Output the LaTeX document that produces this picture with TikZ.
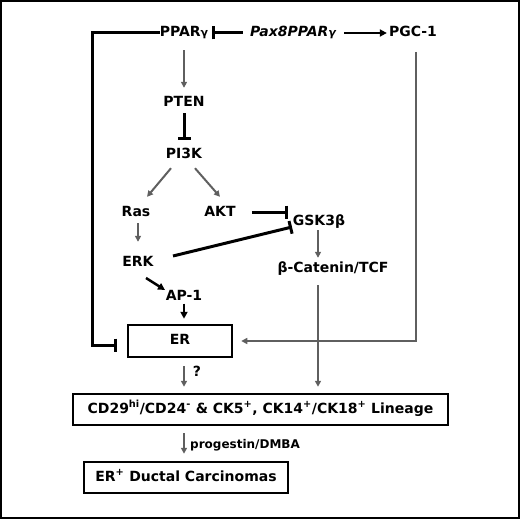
\documentclass[tikz,border=0pt]{standalone}
\usepackage{fontspec}
\setmainfont{DejaVu Sans}
\usetikzlibrary{arrows.meta}
\definecolor{gline}{RGB}{95,95,95}
\begin{document}
\begin{tikzpicture}[x=1pt,y=1pt,
  lbl/.style={font=\bfseries\fontsize{14}{16}\selectfont, inner sep=0pt, text height=10pt, text depth=3pt},
  boxn/.style={lbl, draw, line width=2.5pt, text height=10pt, text depth=3pt},
  garr/.style={draw=gline, line width=2pt, -{Triangle[length=6pt,width=6pt]}},
  barr/.style={line width=2.5pt, -{Triangle[length=7pt,width=7pt]}},
  inh/.style={line width=3pt, -{Bar[width=13pt,line width=3pt]}}
]
\useasboundingbox (0,0) rectangle (520,-519);
\draw[line width=2pt] (1,-1) rectangle (519,-518);

% nodes
\node[lbl] (pparg) at (184,-33) {PPAR{\fontsize{11}{13}\selectfont γ}};
\node[lbl,font=\bfseries\itshape\fontsize{14}{16}\selectfont] (pax) at (293,-33) {Pax8PPAR{\fontsize{11}{13}\selectfont γ}};
\node[lbl] (pgc) at (413,-33) {PGC-1};
\node[lbl] (pten) at (184,-103) {PTEN};
\node[lbl] (pi3k) at (184,-155) {PI3K};
\node[lbl] (ras) at (136,-213) {Ras};
\node[lbl] (akt) at (220,-213) {AKT};
\node[lbl] (gsk) at (319,-222) {GSK3β};
\node[lbl] (erk) at (138,-263) {ERK};
\node[lbl] (bcat) at (333,-269) {β-Catenin/TCF};
\node[lbl] (ap1) at (184,-297) {AP-1};
\node[boxn, minimum width=104pt, minimum height=32pt] (er) at (180,-341) {ER};
\node[boxn, minimum width=375pt, minimum height=31pt] (lin) at (260.5,-409.5)
  {CD29\textsuperscript{hi}/CD24\textsuperscript{-} \& CK5\textsuperscript{+}, CK14\textsuperscript{+}/CK18\textsuperscript{+} Lineage};
\node[boxn, minimum width=204pt, minimum height=31pt] (duct) at (186,-477.5)
  {ER\textsuperscript{+} Ductal Carcinomas};
\node[lbl] (q) at (197,-373) {?};
\node[lbl,anchor=west,font=\bfseries\fontsize{12}{14}\selectfont] (prog) at (190,-445) {progestin/DMBA};

\coordinate (fb) at (92,-33);
\coordinate (pgcdown) at (416,-52);

% connectors
\draw[inh] (pparg.west) -- (fb) |- ([xshift=-10pt,yshift=-4pt]er.west);
\draw[inh, shorten <=7pt, shorten >=4pt] (pax.west) -- (pparg.east);
\draw[barr, shorten <=8pt, shorten >=2pt] (pax.east) -- (pgc.west);
\draw[garr] (pgcdown) |- ([xshift=8pt]er.east);
\draw[garr, shorten <=10.5pt, shorten >=8.5pt] (pparg.south) -- (pten.north);
\draw[inh, shorten <=3.5pt, shorten >=8.5pt] (pten.south) -- (pi3k.north);
\draw[garr] ([xshift=-13pt,yshift=-6.5pt]pi3k.south) -- ([xshift=11pt,yshift=9.5pt]ras.north);
\draw[garr] ([xshift=11pt,yshift=-6.5pt]pi3k.south) -- ([yshift=9.5pt]akt.north);
\draw[inh, shorten <=16pt, shorten >=5pt] ([yshift=1pt]akt.east) -- ([yshift=1pt]akt.east -| gsk.west);
\draw[inh] ([shift={(35,7)}]erk.center) -- ([shift={(-27,-5)}]gsk.center);
\draw[garr, shorten <=3.5pt, shorten >=14.5pt] ([xshift=2pt]ras.south) -- ([xshift=2pt]ras.south |- erk.north);
\draw[garr, shorten <=1.5pt, shorten >=4.5pt] ([xshift=-1pt]gsk.south) -- ([xshift=-1pt]gsk.south |- bcat.north);
\draw[barr] ([shift={(8,-15)}]erk.center) -- ([shift={(-19,7)}]ap1.center);
\draw[barr, shorten >=5pt] (ap1.south) -- (ap1.south |- er.north);
\draw[garr, shorten <=9.5pt, shorten >=6pt] ([xshift=-1pt]gsk.south |- bcat.south) -- ([xshift=-1pt]gsk.south |- lin.north);
\draw[garr, shorten <=8pt, shorten >=6pt] (ap1.south |- er.south) -- (ap1.south |- lin.north);
\draw[garr, shorten <=7pt, shorten >=7pt] (ap1.south |- lin.south) -- (ap1.south |- duct.north);
\end{tikzpicture}
\end{document}
